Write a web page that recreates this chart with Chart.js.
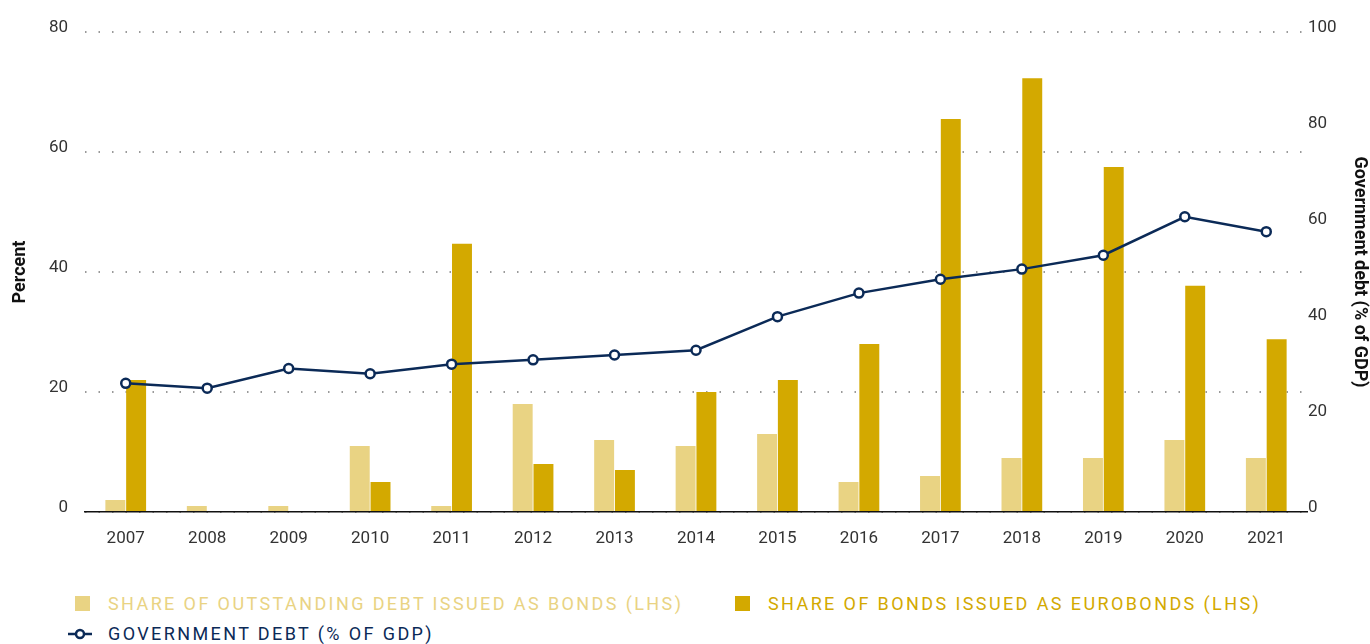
<!DOCTYPE html>
<html>
<head>
<meta charset="utf-8">
<script src="https://cdn.jsdelivr.net/npm/chart.js@4/dist/chart.umd.min.js"></script>
<style>
  html, body { margin: 0; padding: 0; background: #fff; }
  #wrap { position: relative; width: 1370px; height: 644px; overflow: hidden; }
  #chart { position: absolute; left: 0; top: 0; }
  .legend-item {
    position: absolute;
    font-family: Roboto, "Noto Sans", sans-serif;
    font-size: 18px;
    letter-spacing: 2.4px;
    white-space: nowrap;
    line-height: 20px;
  }
  .swatch { position: absolute; width: 15px; height: 15px; }
</style>
</head>
<body>
<div id="wrap">
  <canvas id="chart" width="1370" height="560"></canvas>

  <div class="swatch" style="left:75px; top:596px; background:#E9D383;"></div>
  <div class="legend-item" style="left:108px; top:594px; color:#E9D383;">SHARE OF OUTSTANDING DEBT ISSUED AS BONDS (LHS)</div>

  <div class="swatch" style="left:735px; top:596px; background:#D3A900;"></div>
  <div class="legend-item" style="left:768px; top:594px; color:#D3A900;">SHARE OF BONDS ISSUED AS EUROBONDS (LHS)</div>

  <svg style="position:absolute; left:66px; top:626px;" width="30" height="16">
    <line x1="2" y1="8" x2="26" y2="8" stroke="#0B2A57" stroke-width="2.5"/>
    <circle cx="14" cy="8" r="4" fill="#fff" stroke="#0B2A57" stroke-width="2.5"/>
  </svg>
  <div class="legend-item" style="left:108px; top:624px; color:#0B2A57;">GOVERNMENT DEBT (% OF GDP)</div>
</div>

<script>
const years = ["2007", "2008", "2009", "2010", "2011", "2012", "2013", "2014", "2015", "2016", "2017", "2018", "2019", "2020", "2021"];
const outstandingAsBonds = [2, 1, 1, 11, 1, 18, 12, 11, 13, 5, 6, 9, 9, 12, 9];
const eurobondShare = [22, 0, 0, 5, 44.7, 8, 7, 20, 22, 28, 65.5, 72.3, 57.5, 37.7, 28.8];
const governmentDebt = [26.8, 25.8, 29.9, 28.8, 30.8, 31.7, 32.7, 33.7, 40.7, 45.6, 48.5, 50.6, 53.5, 61.5, 58.4];
const leftTicks = [0, 20, 40, 60, 80];
const rightTicks = [0, 20, 40, 60, 80, 100];

const navy = "#0B2A57";
const tickFont = { family: "Roboto", size: 17 };
const titleFont = { family: "Roboto", size: 18, weight: "bold" };

new Chart(document.getElementById("chart"), {
  data: {
    labels: years,
    datasets: [
      {
        type: "line",
        label: "Government debt (% of GDP)",
        data: governmentDebt,
        yAxisID: "y2",
        borderColor: navy,
        borderWidth: 2.5,
        pointRadius: 4.5,
        pointBorderWidth: 2.5,
        pointBackgroundColor: "#fff",
        pointBorderColor: navy,
        tension: 0,
        order: 0
      },
      {
        type: "bar",
        label: "Share of outstanding debt issued as bonds (LHS)",
        data: outstandingAsBonds,
        yAxisID: "y",
        backgroundColor: "#E9D383",
        categoryPercentage: 0.51,
        barPercentage: 0.96,
        order: 1
      },
      {
        type: "bar",
        label: "Share of bonds issued as eurobonds (LHS)",
        data: eurobondShare,
        yAxisID: "y",
        backgroundColor: "#D3A900",
        categoryPercentage: 0.51,
        barPercentage: 0.96,
        order: 1
      }
    ]
  },
  options: {
    responsive: false,
    animation: false,
    layout: { padding: { top: 32, bottom: 0, left: 0, right: 0 } },
    plugins: {
      legend: { display: false },
      tooltip: { enabled: false }
    },
    scales: {
      x: {
        offset: true,
        grid: { display: false, drawTicks: false },
        border: { display: true, color: "#111", width: 1.5 },
        ticks: { color: "#333", font: tickFont, padding: 17 },
        afterFit: s => { s.height = 48; }
      },
      y: {
        position: "left",
        min: 0,
        max: 80,
        afterBuildTicks: s => { s.ticks = leftTicks.map(v => ({ value: v })); },
        grid: { color: "#9a9a9a", lineWidth: 2, drawTicks: false },
        border: { display: false, dash: [1.5, 12] },
        ticks: { color: "#333", font: tickFont, padding: 17, labelOffset: -4 },
        title: { display: true, text: "Percent", color: "#111", font: titleFont, padding: { top: 10, bottom: 0 } },
        afterFit: s => { s.width = 85; }
      },
      y2: {
        position: "right",
        min: 0,
        max: 100,
        afterBuildTicks: s => { s.ticks = rightTicks.map(v => ({ value: v })); },
        grid: { display: false, drawTicks: false },
        border: { display: false },
        ticks: { color: "#333", font: tickFont, padding: 1, labelOffset: -4 },
        title: { display: true, text: "Government debt (% of GDP)", color: "#111", font: titleFont, padding: 0 },
        afterFit: s => { s.width = 63; }
      }
    }
  }
});
</script>
</body>
</html>
